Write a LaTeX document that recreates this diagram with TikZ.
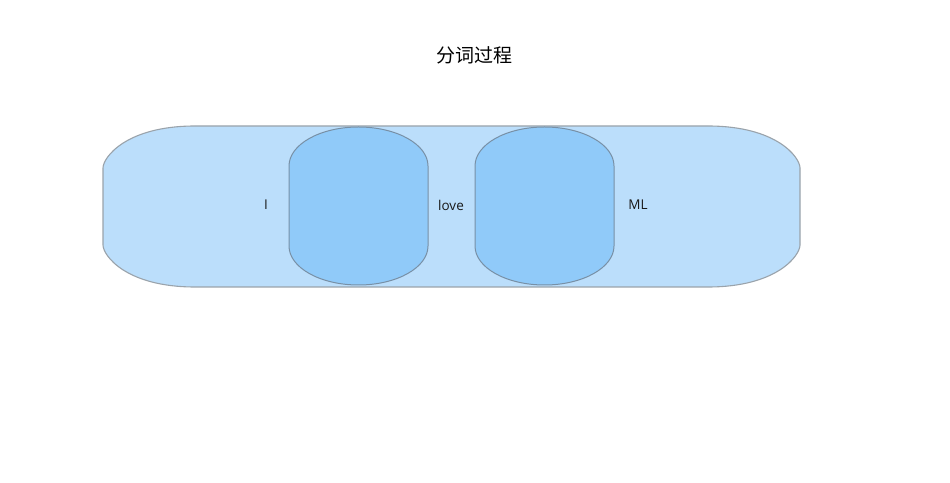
\documentclass[tikz,border=0pt]{standalone}
\usepackage{fontspec}
\setmainfont{Open Sans}
\newfontfamily\cjk{Noto Sans CJK SC}
\definecolor{outerfill}{HTML}{BBDEFB}
\definecolor{innerfill}{HTML}{90CAF9}
\definecolor{outerline}{HTML}{9AA3AB}
\definecolor{innerline}{HTML}{7890A6}
\begin{document}
\begin{tikzpicture}[x=1pt,y=1pt,
  outerbox/.style={fill=outerfill,draw=outerline,line width=1.1pt},
  innerbox/.style={fill=innerfill,draw=innerline,line width=1pt},
  lbl/.style={font=\fontsize{13.5}{15}\selectfont,text=black!90,inner sep=0pt},
  ttl/.style={font=\cjk\fontsize{19}{21}\selectfont,text=black,inner sep=0pt}]
\useasboundingbox (0,0) rectangle (950,482);
% outer rounded box
\draw[outerbox] (195,356) -- (708,356) .. controls (777,356) and (800,324.5) .. (800,314)
  -- (800,237) .. controls (800,226.5) and (777,195) .. (708,195)
  -- (195,195) .. controls (126,195) and (103,226.5) .. (103,237)
  -- (103,314) .. controls (103,324.5) and (126,356) .. (195,356) -- cycle;
% inner boxes
\draw[innerbox] (358.5,355) arc[start angle=90,end angle=0,x radius=69.5,y radius=39]
  -- (428,236) arc[start angle=0,end angle=-90,x radius=69.5,y radius=39]
  arc[start angle=-90,end angle=-180,x radius=69.5,y radius=39]
  -- (289,316) arc[start angle=180,end angle=90,x radius=69.5,y radius=39] -- cycle;
\draw[innerbox] (544.5,355) arc[start angle=90,end angle=0,x radius=69.5,y radius=39]
  -- (614,236) arc[start angle=0,end angle=-90,x radius=69.5,y radius=39]
  arc[start angle=-90,end angle=-180,x radius=69.5,y radius=39]
  -- (475,316) arc[start angle=180,end angle=90,x radius=69.5,y radius=39] -- cycle;
% labels
\node[ttl] (title) at (474,427) {分词过程};
\node[lbl] (w1) at (266,277) {I};
\node[lbl] (w2) at (451,277) {love};
\node[lbl] (w3) at (638,277) {ML};
\end{tikzpicture}
\end{document}
